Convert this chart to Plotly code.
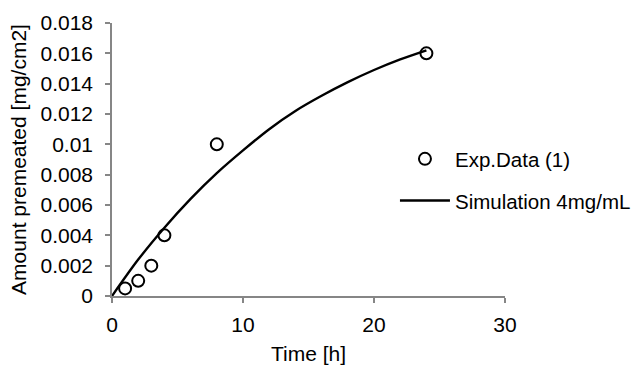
import plotly.graph_objects as go

# Measured permeation data
exp_time = [1, 2, 3, 4, 8, 24]
exp_amount = [0.0005, 0.001, 0.002, 0.004, 0.01, 0.016]

# Simulated cumulative permeation, 4 mg/mL donor
sim_time = [0, 2, 4, 6, 8, 10, 12, 14, 16, 18, 20, 22, 24]
sim_amount = [0, 0.0024, 0.0045, 0.0064, 0.0081, 0.0096, 0.0110,
              0.0122, 0.0132, 0.0141, 0.0149, 0.0156, 0.0162]

y_ticks = [0, 0.002, 0.004, 0.006, 0.008, 0.01, 0.012, 0.014, 0.016, 0.018]
y_tick_text = ["0", "0.002", "0.004", "0.006", "0.008", "0.01",
               "0.012", "0.014", "0.016", "0.018"]
x_ticks = [0, 10, 20, 30]

font = "Liberation Sans, Arial, sans-serif"
axis_grey = "#868686"
fsize = 21

fig = go.Figure()
fig.add_trace(go.Scatter(
    x=exp_time, y=exp_amount, mode="markers", name="Exp.Data (1)",
    legendgroup="exp",
    marker=dict(symbol="circle-open", size=12, color="black",
                line=dict(width=2, color="black")),
))
fig.add_trace(go.Scatter(
    x=sim_time, y=sim_amount, mode="lines", name="Simulation 4mg/mL",
    legendgroup="sim",
    line=dict(color="black", width=2.4, shape="spline", smoothing=0.8),
))

fig.update_layout(
    width=642, height=365,
    margin=dict(l=112, r=137, t=23, b=69, autoexpand=False),
    paper_bgcolor="white", plot_bgcolor="white",
    font=dict(family=font, size=fsize, color="#000000"),
    showlegend=True,
    legend=dict(x=0.72, y=0.575, xanchor="left", yanchor="top",
                font=dict(size=20.5), itemwidth=50, tracegroupgap=12,
                borderwidth=0, bgcolor="rgba(0,0,0,0)"),
    xaxis=dict(range=[0, 30], tickvals=x_ticks, showgrid=False,
               zeroline=False, showline=True, linecolor=axis_grey,
               linewidth=1.5, ticks="outside", tickcolor=axis_grey,
               ticklen=5, tickwidth=1.5, tickfont=dict(size=fsize),
               ticklabelstandoff=4,
               title=dict(text="Time [h]", font=dict(size=fsize), standoff=14)),
    yaxis=dict(range=[0, 0.018], tickvals=y_ticks, ticktext=y_tick_text,
               showgrid=False, zeroline=False, showline=True,
               linecolor=axis_grey, linewidth=1.5, ticks="outside",
               tickcolor=axis_grey, ticklen=5, tickwidth=1.5,
               tickfont=dict(size=fsize), ticklabelstandoff=8,
               title=dict(text="Amount premeated [mg/cm2]",
                          font=dict(size=fsize), standoff=8)),
)

fig.write_html("out.html")
